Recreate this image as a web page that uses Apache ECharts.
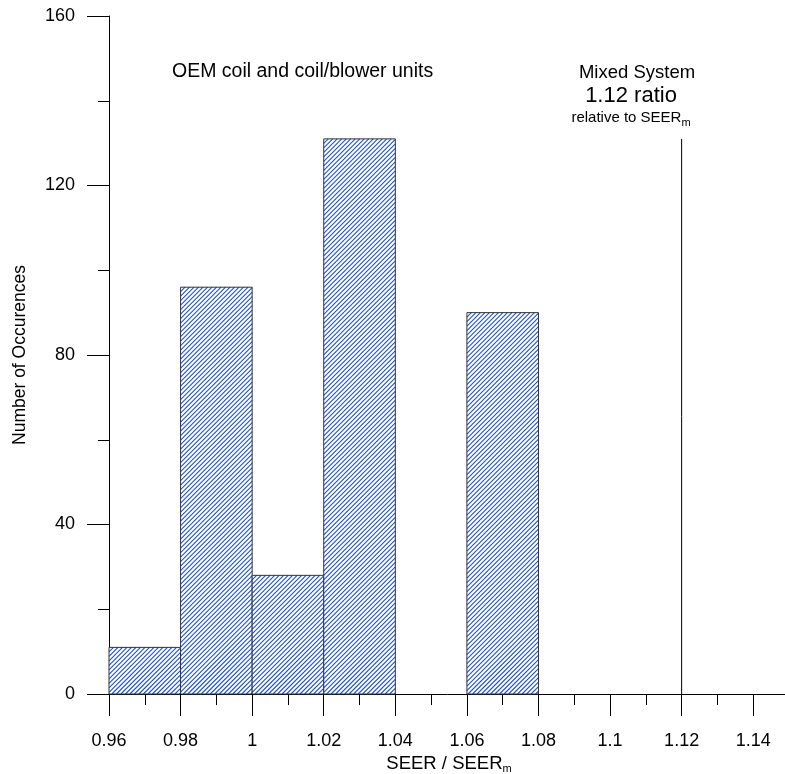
<!DOCTYPE html>
<html><head><meta charset="utf-8">
<script src="https://cdn.jsdelivr.net/npm/echarts@6/dist/echarts.min.js"></script>
<style>html,body{margin:0;padding:0;background:#fff}#c{width:785px;height:774px}</style>
</head><body><div id="c"></div>
<script>
const binStarts = [0.96, 0.98, 1.00, 1.02, 1.06];
const binEnds   = [0.98, 1.00, 1.02, 1.04, 1.08];
const counts    = [11, 96, 28, 131, 90];
const markerX = 1.12;
const markerHeight = 131;
const xTicks = [0.96, 0.98, 1, 1.02, 1.04, 1.06, 1.08, 1.1, 1.12, 1.14];

const hatchGap = 4.5;
function hatchPath(x, yTop, w, h) {
  let d = '';
  const bottom = yTop + h;
  for (let c = -h; c < w; c += hatchGap) {
    const u0 = Math.max(0, c), u1 = Math.min(w, c + h);
    if (u1 <= u0) continue;
    d += 'M' + (x + u0) + ' ' + (bottom - (u0 - c)) + 'L' + (x + u1) + ' ' + (bottom - (u1 - c));
  }
  return d;
}

const font = 'Liberation Sans, Arial, sans-serif';
const chart = echarts.init(document.getElementById('c'));
const histData = binStarts.map((s,i)=>[s, binEnds[i], counts[i]]);
chart.setOption({
  animation: false,
  grid: {left:109, right:-4, top:16, bottom:80, outerBoundsMode:'none', containLabel:false},
  xAxis: {
    type:'value', min:0.96, max:1.15, interval:0.02,
    axisLine:{show:true, onZero:false, lineStyle:{color:'#000', width:1}},
    axisTick:{show:true, inside:false, length:22, lineStyle:{color:'#000'}, customValues: xTicks},
    minorTick:{show:true, splitNumber:2, length:11, lineStyle:{color:'#000'}},
    splitLine:{show:false},
    axisLabel:{customValues: xTicks, color:'#000', fontSize:18, fontFamily:font, margin:38,
      formatter: v => String(+v.toFixed(2))},
    name:'{a|SEER / SEER}{s|m}', nameLocation:'middle', nameGap:56,
    nameTextStyle:{rich:{a:{fontSize:18.5, fontFamily:font, color:'#000'}, s:{fontSize:11, fontFamily:font, color:'#000', padding:[10,0,0,0]}}}
  },
  yAxis: {
    type:'value', min:0, max:160, interval:40,
    axisLine:{show:true, lineStyle:{color:'#000', width:1}},
    axisTick:{show:true, length:22, lineStyle:{color:'#000'}},
    minorTick:{show:true, splitNumber:2, length:11, lineStyle:{color:'#000'}},
    splitLine:{show:false},
    axisLabel:{color:'#000', fontSize:18, fontFamily:font, margin:34},
    name:'Number of Occurences', nameLocation:'middle', nameGap:80, nameRotate:90,
    nameTextStyle:{fontSize:17.5, fontFamily:font, color:'#000'}
  },
  series: [{
    type:'custom',
    data: histData,
    renderItem: (params, api) => {
      const p0 = api.coord([api.value(0), api.value(2)]);
      const p1 = api.coord([api.value(1), 0]);
      const x = p0[0], y = p0[1], w = p1[0]-p0[0], h = p1[1]-p0[1];
      return {type:'group', children:[
        {type:'rect', shape:{x, y, width:w, height:h}, style:{fill:'#fff', stroke:null}},
        {type:'path', shape:{pathData: hatchPath(x, y, w, h)}, style:{fill:null, stroke:'#1d52d8', lineWidth:1.1}},
        {type:'rect', shape:{x, y, width:w, height:h}, style:{fill:null, stroke:'#333', lineWidth:1}}
      ]};
    },
    encode:{x:[0,1], y:2}
  },{
    type:'line', data:[[markerX,0],[markerX,markerHeight]], symbol:'none',
    lineStyle:{color:'#000', width:1}
  }],
  graphic: [
    {type:'text', x:172, y:72, style:{text:'OEM coil and coil/blower units', font:'19.5px '+font, fill:'#000', verticalAlign:'middle'}},
    {type:'text', x:637, y:73, style:{text:'Mixed System', font:'18.5px '+font, fill:'#000', align:'center', verticalAlign:'middle'}},
    {type:'text', x:631, y:96, style:{text:'1.12 ratio', font:'22px '+font, fill:'#000', align:'center', verticalAlign:'middle'}},
    {type:'text', x:631, y:118, style:{text:'{a|relative to SEER}{s|m}', align:'center', verticalAlign:'middle',
      rich:{a:{fontSize:15, fontFamily:font, fill:'#000'}, s:{fontSize:11, fontFamily:font, fill:'#000', padding:[9,0,0,0]}}}}
  ]
});
</script></body></html>
